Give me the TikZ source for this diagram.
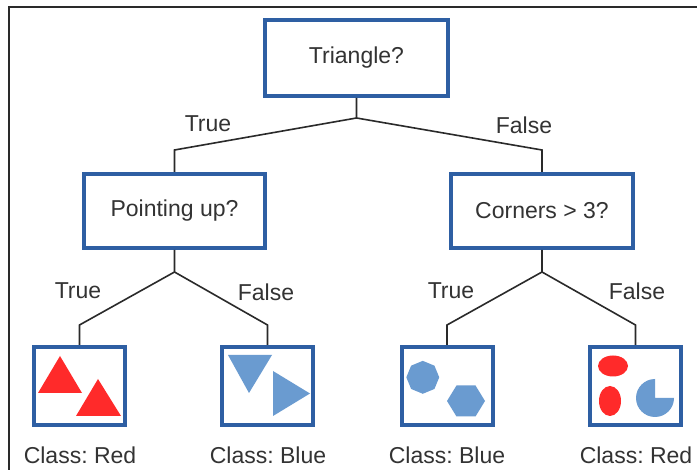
\documentclass[tikz,border=0pt]{standalone}
\usepackage{fontspec}
\setmainfont{Liberation Sans}
\frenchspacing
\definecolor{boxblue}{HTML}{2E5FA3}
\definecolor{shapered}{HTML}{FF2A2A}
\definecolor{shapeblue}{HTML}{6A9BD0}
\definecolor{txt}{HTML}{333333}
\definecolor{wire}{HTML}{2A2A2A}
\tikzset{
  qbox/.style={draw=boxblue, line width=4pt, fill=white, text=txt, font=\fontsize{23}{27}\selectfont, inner sep=0pt},
  leafbox/.style={draw=boxblue, line width=4pt, fill=white, minimum width=91pt, minimum height=78pt, inner sep=0pt},
  conn/.style={draw=wire, line width=1.6pt},
  lbl/.style={text=txt, font=\fontsize{23}{27}\selectfont, inner sep=0pt},
  redfill/.style={fill=shapered, draw=none},
  bluefill/.style={fill=shapeblue, draw=none},
}
\begin{document}
\begin{tikzpicture}[x=1pt,y=-1pt]
\useasboundingbox (0,0) rectangle (697,470);
\fill[white] (0,0) rectangle (697,470);
% frame
\draw[wire, line width=1.5pt] (697,7) -- (9,7) -- (9,470);

% question nodes
\node[qbox, minimum width=183pt, minimum height=76pt] (root) at (356.5,58) {Triangle?};
\node[qbox, minimum width=181pt, minimum height=74pt] (pu) at (174.5,211) {Pointing up?};
\node[qbox, minimum width=182pt, minimum height=74pt] (co) at (542,211) {Corners > 3?};

% leaves
\node[leafbox] (l1) at (79.5,386) {};
\node[leafbox] (l2) at (267.5,386) {};
\node[leafbox] (l3) at (447,386) {};
\node[leafbox] (l4) at (635.5,386) {};

% junctions and elbows
\coordinate (j0) at (356.5,118);
\coordinate (e1) at (174.5,150);
\coordinate (e2) at (542,150);
\coordinate (j1) at (174.5,272);
\coordinate (e3) at (79.5,325);
\coordinate (e4) at (267.5,325);
\coordinate (j2) at (542,272);
\coordinate (e5) at (447,325);
\coordinate (e6) at (635.5,325);

\draw[conn] (root.south) -- (j0) -- (e1) -- (pu.north);
\draw[conn] (j0) -- (e2) -- (co.north);
\draw[conn] (pu.south) -- (j1) -- (e3) -- (l1.north);
\draw[conn] (j1) -- (e4) -- (l2.north);
\draw[conn] (co.south) -- (j2) -- (e5) -- (l3.north);
\draw[conn] (j2) -- (e6) -- (l4.north);

% edge labels
\node[lbl] (t1) at (208,124) {True};
\node[lbl] (f1) at (524,125) {False};
\node[lbl] (t2) at (78,291) {True};
\node[lbl] (f2) at (266,292) {False};
\node[lbl] (t3) at (451,291) {True};
\node[lbl] (f3) at (637,291) {False};

% class labels
\node[lbl] (c1) at (80,455) {Class: Red};
\node[lbl] (c2) at (268,455) {Class: Blue};
\node[lbl] (c3) at (447,455) {Class: Blue};
\node[lbl] (c4) at (636,455) {Class: Red};

% leaf 1: red triangles
\fill[redfill] (38,393) -- (82,393) -- (60,356) -- cycle;
\fill[redfill] (76,416) -- (121,416) -- (98,379) -- cycle;
% leaf 2: blue triangles
\fill[bluefill] (228,355) -- (272,355) -- (249,393) -- cycle;
\fill[bluefill] (273,371) -- (273,416) -- (310,393.5) -- cycle;
% leaf 3: octagon and hexagon
\fill[bluefill] (424,371) ++(22.5:16.5) -- ++(112.5:12.6) -- ++(157.5:12.6) -- ++(202.5:12.6) -- ++(247.5:12.6) -- ++(292.5:12.6) -- ++(337.5:12.6) -- ++(22.5:12.6) -- cycle;
\fill[bluefill] (447,401) -- (456.5,385.5) -- (475.5,385.5) -- (485,401) -- (475.5,416.5) -- (456.5,416.5) -- cycle;
% leaf 4: red ellipses and pac-man
\fill[redfill] (613,366) ellipse [x radius=15, y radius=10.5];
\fill[redfill] (610,401) ellipse [x radius=11, y radius=15];
\fill[bluefill] (655,398) -- (655,379) arc[start angle=-90, end angle=-360, radius=19] -- cycle;
\end{tikzpicture}
\end{document}
